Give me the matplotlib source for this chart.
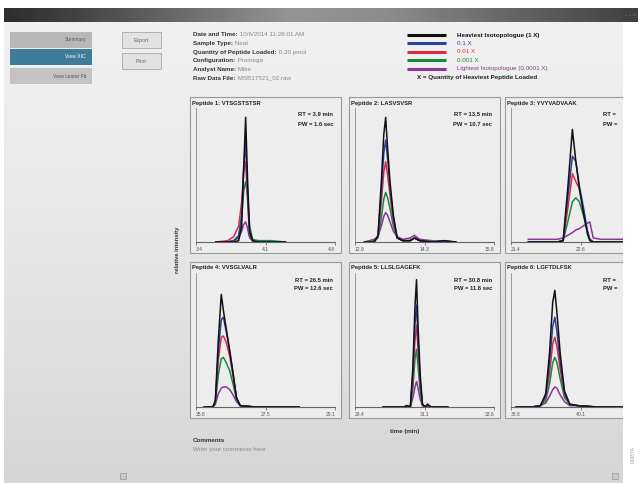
import numpy as np
import matplotlib.pyplot as plt
from matplotlib.patches import Rectangle

plt.rcParams['font.family'] = ['Liberation Sans', 'DejaVu Sans']

W, H = 642, 483

info_labels = ['Date and Time:', 'Sample Type:', 'Quantity of Peptide Loaded:',
               'Configuration:', 'Analyst Name:', 'Raw Data File:']
info_values = ['10/6/2014 11:28:01 AM', 'Neat', '0.20 pmol', 'Promega', 'Mike',
               'MSB17521_02.raw']

series_names = ['Heaviest Isotopologue (1 X)', '0.1 X', '0.01 X', '0.001 X',
                'Lightest Isotopologue (0.0001 X)']
series_colors = ['#111111', '#2f3f9c', '#e02a45', '#138a3e', '#8b3596']

peptides = ['Peptide 1: VTSGSTSTSR', 'Peptide 2: LASVSVSR', 'Peptide 3: YVYVADVAAK',
            'Peptide 4: VVSGLVALR', 'Peptide 5: LLSLGAGEFK', 'Peptide 6: LGFTDLFSK']
rt_text = ['RT = 3.9 min', 'RT = 13.5 min', 'RT =', 'RT = 26.5 min', 'RT = 30.8 min', 'RT =']
pw_text = ['PW = 1.6 sec', 'PW = 10.7 sec', 'PW =', 'PW = 12.6 sec', 'PW = 11.8 sec', 'PW =']
x_limits = [(3.4, 4.8), (12.9, 15.8), (21.4, 23.8), (25.8, 29.1), (28.4, 33.8), (38.8, 41.4)]
tick_labels = [['3.4', '4.1', '4.8'], ['12.9', '14.3', '15.8'], ['21.4', '22.6'],
               ['25.8', '27.5', '29.1'], ['28.4', '31.1', '33.8'], ['38.8', '40.1']]

# relative intensity per series: heaviest, 0.1X, 0.01X, 0.001X, lightest
p1_time = [3.60, 3.72, 3.78, 3.83, 3.86, 3.88, 3.90, 3.92, 3.94, 3.97, 4.02, 4.15, 4.30]
p1_levels = [
    [0, 0, 0, 0.01, 0.12, 0.55, 0.93, 0.45, 0.08, 0.01, 0, 0, 0],
    [0, 0, 0.01, 0.04, 0.20, 0.55, 0.75, 0.35, 0.06, 0.01, 0, 0, 0],
    [0, 0.01, 0.04, 0.12, 0.30, 0.52, 0.60, 0.30, 0.05, 0.01, 0, 0, 0],
    [0, 0, 0.01, 0.05, 0.18, 0.38, 0.45, 0.35, 0.12, 0.02, 0.01, 0.01, 0],
    [0, 0, 0.01, 0.03, 0.08, 0.13, 0.15, 0.10, 0.03, 0.01, 0.01, 0, 0],
]
p2_time = [13.10, 13.30, 13.38, 13.45, 13.50, 13.54, 13.58, 13.63, 13.70, 13.78, 13.90,
           14.05, 14.14, 14.25, 14.50, 14.75, 15.00]
p2_levels = [
    [0, 0, 0.05, 0.45, 0.80, 0.93, 0.70, 0.45, 0.20, 0.03, 0.01, 0.01, 0.03, 0.01, 0, 0.01, 0],
    [0, 0, 0.04, 0.38, 0.66, 0.76, 0.62, 0.40, 0.18, 0.03, 0.01, 0.01, 0.03, 0.01, 0, 0.01, 0],
    [0, 0, 0.04, 0.30, 0.52, 0.60, 0.50, 0.35, 0.15, 0.03, 0.01, 0.01, 0.03, 0.01, 0, 0, 0],
    [0, 0.01, 0.03, 0.18, 0.32, 0.37, 0.33, 0.25, 0.12, 0.03, 0.01, 0.01, 0.03, 0.01, 0, 0, 0],
    [0, 0.02, 0.04, 0.12, 0.19, 0.22, 0.20, 0.15, 0.08, 0.04, 0.02, 0.03, 0.05, 0.02, 0.01, 0, 0],
]
p3_time = [21.70, 22.00, 22.20, 22.30, 22.38, 22.46, 22.52, 22.58, 22.65, 22.72, 22.76,
           22.82, 22.95, 23.35]
p3_levels = [
    [0, 0, 0, 0.01, 0.40, 0.84, 0.60, 0.40, 0.22, 0.06, 0.01, 0, 0, 0],
    [0, 0, 0, 0.01, 0.33, 0.64, 0.60, 0.42, 0.26, 0.08, 0.02, 0, 0, 0],
    [0, 0, 0, 0.01, 0.25, 0.51, 0.45, 0.40, 0.24, 0.08, 0.02, 0, 0, 0],
    [0, 0, 0, 0.01, 0.15, 0.30, 0.33, 0.30, 0.20, 0.08, 0.02, 0, 0, 0],
    [0.02, 0.02, 0.02, 0.03, 0.05, 0.07, 0.09, 0.10, 0.12, 0.14, 0.15, 0.03, 0.02, 0.02],
]
p4_time = [26.00, 26.20, 26.26, 26.33, 26.40, 26.45, 26.52, 26.60, 26.68, 26.76, 26.85,
           27.20, 28.25]
p4_levels = [
    [0, 0, 0.05, 0.50, 0.84, 0.72, 0.58, 0.42, 0.25, 0.07, 0.01, 0, 0],
    [0, 0, 0.04, 0.42, 0.65, 0.67, 0.56, 0.42, 0.25, 0.07, 0.01, 0, 0],
    [0, 0, 0.04, 0.35, 0.52, 0.53, 0.48, 0.38, 0.23, 0.07, 0.01, 0, 0],
    [0, 0, 0.03, 0.24, 0.36, 0.37, 0.33, 0.27, 0.17, 0.06, 0.01, 0, 0],
    [0, 0, 0.02, 0.10, 0.14, 0.15, 0.15, 0.13, 0.09, 0.04, 0.01, 0, 0],
]
p5_time = [29.50, 30.30, 30.43, 30.55, 30.65, 30.73, 30.79, 30.85, 30.93, 31.02, 31.12,
           31.22, 31.35, 32.00]
p5_levels = [
    [0, 0, 0.01, 0, 0.30, 0.75, 0.95, 0.60, 0.25, 0.02, 0, 0.02, 0, 0],
    [0, 0, 0.01, 0, 0.25, 0.62, 0.76, 0.50, 0.20, 0.02, 0, 0.02, 0, 0],
    [0, 0, 0.01, 0, 0.20, 0.50, 0.61, 0.42, 0.18, 0.02, 0, 0.01, 0, 0],
    [0, 0, 0.01, 0, 0.14, 0.36, 0.43, 0.30, 0.12, 0.02, 0, 0.01, 0, 0],
    [0, 0, 0.01, 0, 0.07, 0.15, 0.19, 0.14, 0.06, 0.01, 0, 0.01, 0, 0],
]
p6_time = [38.90, 39.20, 39.35, 39.45, 39.52, 39.58, 39.62, 39.66, 39.72, 39.80, 39.90,
           40.05, 40.40, 41.20]
p6_levels = [
    [0, 0, 0.01, 0.10, 0.40, 0.78, 0.87, 0.70, 0.40, 0.12, 0.02, 0.01, 0, 0],
    [0, 0, 0.01, 0.08, 0.32, 0.60, 0.67, 0.56, 0.33, 0.10, 0.02, 0.01, 0, 0],
    [0, 0, 0.01, 0.07, 0.25, 0.47, 0.52, 0.45, 0.28, 0.09, 0.02, 0.01, 0, 0],
    [0, 0, 0.01, 0.05, 0.17, 0.33, 0.37, 0.33, 0.21, 0.07, 0.02, 0.01, 0, 0],
    [0, 0, 0.01, 0.03, 0.08, 0.13, 0.15, 0.14, 0.09, 0.04, 0.01, 0.01, 0, 0],
]
panel_times = [p1_time, p2_time, p3_time, p4_time, p5_time, p6_time]
panel_levels = [p1_levels, p2_levels, p3_levels, p4_levels, p5_levels, p6_levels]

fig = plt.figure(figsize=(W / 100, H / 100), dpi=100)
fig.patch.set_facecolor('white')

bg = fig.add_axes([0, 0, 1, 1])
bg.set_xlim(0, W)
bg.set_ylim(H, 0)
bg.axis('off')

# window body and title bar
grad_v = np.linspace(0, 1, 100).reshape(-1, 1)
bg.imshow(grad_v, cmap=plt.matplotlib.colors.LinearSegmentedColormap.from_list(
    'win', ['#f1f1f1', '#e6e6e6', '#d6d6d6']), extent=[4, 623, 483, 22], aspect='auto')
xs = np.linspace(0, 1, 200)
bar = np.interp(xs, [0, 0.1, 0.45, 0.6, 1.0], [0.18, 0.25, 0.58, 0.55, 0.25]).reshape(1, -1)
bg.imshow(bar, cmap='gray', vmin=0, vmax=1, extent=[4, 638, 22, 8], aspect='auto')
bg.text(630, 15, '–  ▫  ×', color='#9a9a9a', fontsize=3, ha='center', va='center')

# navigation buttons
nav = [('Summary', 32, '#b8b8b8', '#5a5a5a'), ('View XIC', 49, '#3f7c99', 'white'),
       ('View Linear Fit', 68, '#c3c3c3', '#555555')]
for label, y0, fc, tc in nav:
    bg.add_patch(Rectangle((10, y0), 82, 16, facecolor=fc, edgecolor='none'))
    bg.text(86, y0 + 8, label, color=tc, fontsize=3.6, ha='right', va='center')
for label, y0 in [('Export', 32), ('Print', 53)]:
    bg.add_patch(Rectangle((122, y0), 39, 16, facecolor='#e2e2e2', edgecolor='#a8a8a8', lw=0.6))
    bg.text(141.5, y0 + 8.5, label, color='#666666', fontsize=3.8, ha='center', va='center')

# sample info
for i, (lab, val) in enumerate(zip(info_labels, info_values)):
    y = 35 + i * 8.6
    t = bg.text(193, y, lab, fontsize=4.5, fontweight='bold', color='#333333', va='center')
    bg.annotate(' ' + val, xycoords=t, xy=(1, 0.5), va='center', fontsize=4.5, color='#8a8a8a')

# legend
for i, (name, col) in enumerate(zip(series_names, series_colors)):
    y = 35 + i * 8.4
    bg.plot([407, 446], [y, y], color=col, lw=2.2, solid_capstyle='butt')
    bg.text(457, y, name, fontsize=4.5, color=col, va='center',
            fontweight='bold' if i == 0 else 'normal')
bg.text(417, 78, 'X = Quantity of Heaviest Peptide Loaded', fontsize=4.5,
        fontweight='bold', color='#222222', va='center')

# panels
col_x = [190, 349, 505]
row_y = [97, 262]
for k in range(6):
    r, c = divmod(k, 3)
    fx, fy = col_x[c], row_y[r]
    bg.add_patch(Rectangle((fx, fy), 151, 156, facecolor='#ededed', edgecolor='#9a9a9a', lw=0.8))
    bg.text(fx + 2, fy + 6, peptides[k], fontsize=4.2, fontweight='bold', color='#222222',
            va='center')
    if rt_text[k].endswith('='):
        bg.text(fx + 98, fy + 18, rt_text[k], fontsize=4.2, fontweight='bold', color='#222222', va='center')
        bg.text(fx + 98, fy + 27, pw_text[k], fontsize=4.2, fontweight='bold', color='#222222', va='center')
    else:
        bg.text(fx + 143, fy + 18, rt_text[k], fontsize=4.2, fontweight='bold', color='#222222',
                ha='right', va='center')
        bg.text(fx + 143, fy + 27, pw_text[k], fontsize=4.2, fontweight='bold', color='#222222',
                ha='right', va='center')

    ax0, ax1 = fx + 6, fx + 145
    ay0, ay1 = fy + 11, fy + 145
    ax = fig.add_axes([ax0 / W, 1 - ay1 / H, (ax1 - ax0) / W, (ay1 - ay0) / H])
    ax.set_facecolor('none')
    lo, hi = x_limits[k]
    ax.set_xlim(lo, hi)
    ax.set_ylim(0, 1)
    t = panel_times[k]
    for lev, col in reversed(list(zip(panel_levels[k], series_colors))):
        ax.plot(t, lev, color=col, lw=1.1)
    labs = tick_labels[k]
    ticks = np.linspace(lo, hi, 3)[:len(labs)]
    ax.set_xticks(ticks)
    ax.set_xticklabels(labs)
    ax.set_yticks([])
    for i, tl in enumerate(ax.get_xticklabels()):
        tl.set_ha('left' if i == 0 else ('right' if i == 2 else 'center'))
    ax.tick_params(axis='x', length=2.5, width=0.5, pad=0.8, labelsize=3.6,
                   colors='#555555', direction='out')
    for s in ['top', 'right']:
        ax.spines[s].set_visible(False)
    ax.spines['left'].set_color('#8a8a8a')
    ax.spines['left'].set_linewidth(0.6)
    ax.spines['bottom'].set_color('#666666')
    ax.spines['bottom'].set_linewidth(0.8)

bg.text(178, 250, 'relative intensity', rotation=90, fontsize=4.2, fontweight='bold',
        color='#333333', ha='center', va='center')
bg.text(405, 432, 'time (min)', fontsize=4.4, fontweight='bold', color='#333333',
        ha='center', va='center')
bg.text(193, 441, 'Comments', fontsize=4.5, fontweight='bold', color='#333333', va='center')
bg.text(193, 450, 'Write your comments here', fontsize=4.5, color='#8a8a8a', va='center')

# small scroll buttons
for x0 in [120, 612]:
    bg.add_patch(Rectangle((x0, 473), 6, 6, facecolor='#c8c8c8', edgecolor='#999999', lw=0.5))

# window right edge and figure code
fig.add_artist(Rectangle((623 / W, 0), 19 / W, (H - 22) / H, transform=fig.transFigure,
                         facecolor='white', edgecolor='none', zorder=5))
fig.text(633 / W, 1 - 455 / H, '0408TA', rotation=90, fontsize=3.5, color='#9a9a9a',
         ha='center', va='center', zorder=6)

fig.savefig('out.png', dpi=100)
